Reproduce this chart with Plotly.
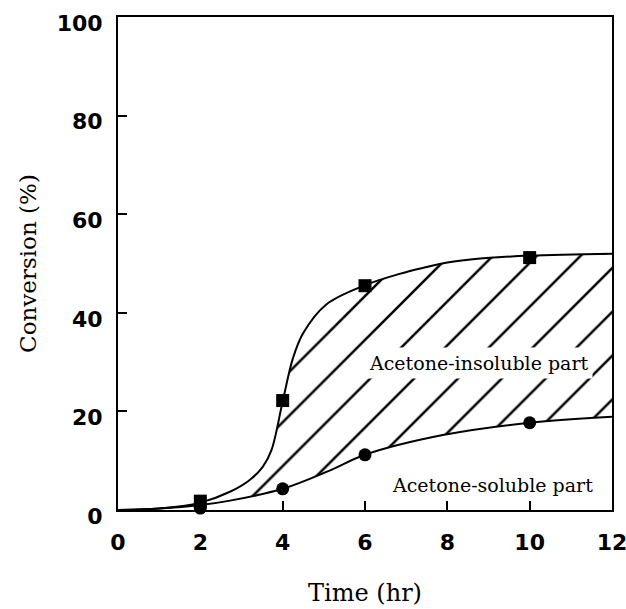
import plotly.graph_objects as go

# Measured points
time_pts = [2, 4, 6, 10]
insoluble_pts = [1.8, 22.2, 45.5, 51.2]   # squares
soluble_pts = [0.4, 4.3, 11.2, 17.7]      # circles

# Fitted curves
upper_x = [0, 1, 2, 2.72, 3.2, 3.52, 3.73, 4.0, 4.25, 4.5, 5.06, 6, 6.84, 7.4, 8.0, 8.8, 10, 12]
upper_y = [0, 0.3, 1.5, 3.7, 6.1, 8.8, 12.2, 22.0, 30.8, 35.9, 41.7, 45.6, 47.9, 49.1, 50.2, 51.0, 51.6, 52.0]
lower_x = [0, 1, 2, 2.72, 4, 5.14, 6, 7.89, 10, 12]
lower_y = [0, 0.3, 1.0, 1.9, 4.3, 8.0, 11.2, 15.2, 17.7, 18.9]

x_ticks = [0, 2, 4, 6, 8, 10, 12]
y_ticks = [0, 20, 40, 60, 80, 100]

curve_line = dict(color="black", width=2, shape="spline", smoothing=1)

fig = go.Figure()
fig.add_trace(go.Scatter(x=lower_x, y=lower_y, mode="lines", line=curve_line,
                         showlegend=False, hoverinfo="skip"))
fig.add_trace(go.Scatter(x=upper_x, y=upper_y, mode="lines", line=curve_line,
                         fill="tonexty", fillcolor="white",
                         fillpattern=dict(shape="/", fgcolor="#000000", bgcolor="white",
                                          fgopacity=1, fillmode="replace",
                                          size=31, solidity=0.08),
                         showlegend=False, hoverinfo="skip"))
fig.add_trace(go.Scatter(x=time_pts, y=insoluble_pts, mode="markers",
                         marker=dict(symbol="square", size=13, color="black"),
                         showlegend=False, cliponaxis=False))
fig.add_trace(go.Scatter(x=time_pts, y=soluble_pts, mode="markers",
                         marker=dict(symbol="circle", size=13, color="black"),
                         showlegend=False, cliponaxis=False))

serif = "DejaVu Serif"
fig.add_annotation(x=8.75, y=29.9, text="Acetone-insoluble part", showarrow=False,
                   font=dict(family=serif, size=19, color="black"),
                   bgcolor="white", borderpad=4)
fig.add_annotation(x=9.1, y=5.1, text="Acetone-soluble part", showarrow=False,
                   font=dict(family=serif, size=19, color="black"))

axis_common = dict(showgrid=False, zeroline=False, showline=True, linecolor="black",
                   linewidth=2, mirror=True, ticks="inside", ticklen=9, tickwidth=1.5,
                   tickcolor="black", automargin=False, ticklabeloverflow="allow",
                   tickfont=dict(family="DejaVu Sans", size=22, color="black", weight="bold"))

fig.update_xaxes(range=[0, 12], tickvals=x_ticks, ticklabelstandoff=12,
                 title=dict(text="Time (hr)", font=dict(family=serif, size=24, color="black"),
                            standoff=30),
                 **axis_common)
fig.update_yaxes(range=[0, 100], tickvals=y_ticks, ticklabelstandoff=9, ticklabelshift=6,
                 title=dict(text="Conversion (%)", font=dict(family=serif, size=23, color="black"),
                            standoff=14),
                 **axis_common)

fig.update_layout(width=626, height=609, margin=dict(l=118, r=14, t=17, b=99),
                  paper_bgcolor="white", plot_bgcolor="white")

fig.write_html("out.html")
